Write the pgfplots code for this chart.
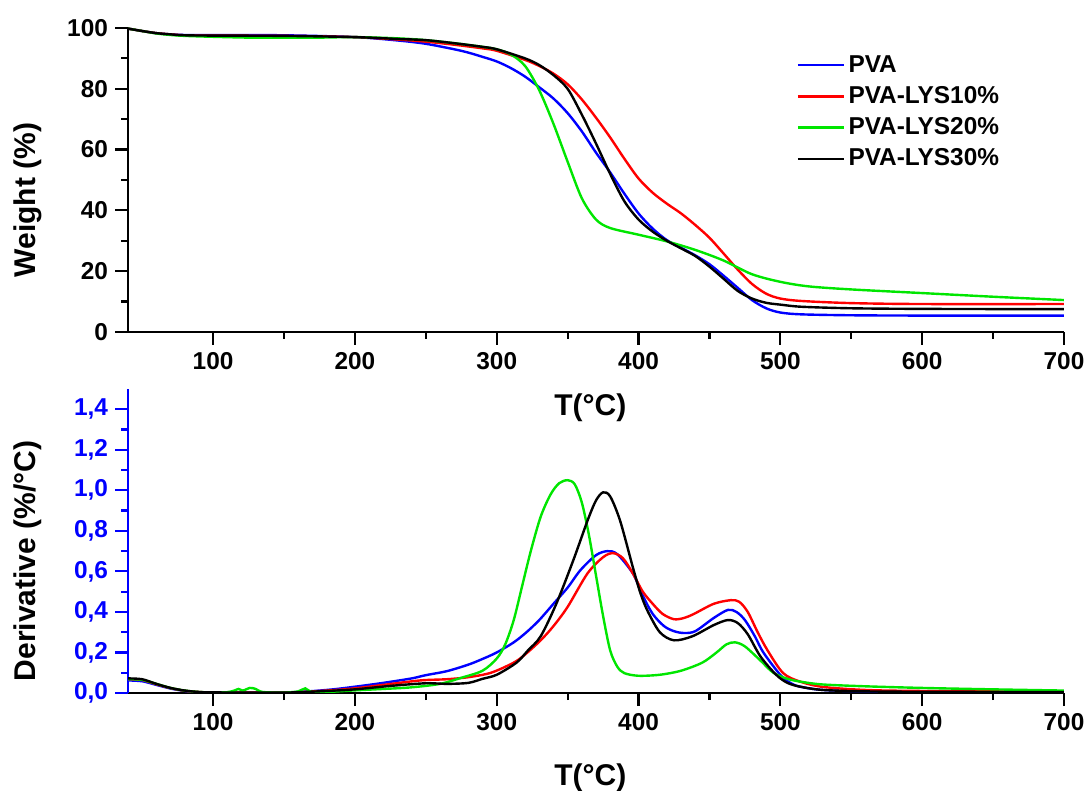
\documentclass[border=0pt]{standalone}
\usepackage{pgfplots}
\pgfplotsset{compat=1.18}
\usepackage{fontspec}
\setmainfont{Liberation Sans}
\definecolor{cblue}{RGB}{0,0,255}
\definecolor{cred}{RGB}{255,0,0}
\definecolor{cgreen}{RGB}{0,230,0}
\definecolor{cblack}{RGB}{0,0,0}

% ---------- TGA (weight) ----------
\pgfplotstableread{
T W
40 99.8
50 99.0
60 98.3
70 97.9
80 97.7
100 97.7
150 97.6
200 97.0
230 95.9
250 94.8
270 93.0
280 91.9
290 90.5
300 89.0
310 86.8
320 84.0
330 80.5
340 76.8
350 72.0
360 66.0
370 59.0
380 52.5
390 45.5
400 39.0
410 34.0
420 30.2
430 27.7
440 25.2
450 22.3
460 18.5
470 14.5
480 10.5
490 7.8
500 6.4
515 5.8
550 5.5
600 5.4
700 5.4
}\wPVA
\pgfplotstableread{
T W
40 99.8
50 99.0
60 98.3
70 97.9
80 97.6
100 97.5
150 97.4
200 97.0
230 96.2
250 95.5
270 94.5
290 93.3
300 92.5
320 89.5
330 87.5
340 85.0
350 81.5
360 76.5
370 70.5
380 64.0
390 57.0
400 50.5
410 45.8
420 42.2
430 39.0
440 35.2
450 31.0
460 25.8
470 20.5
480 15.8
490 12.6
500 11.0
515 10.2
550 9.5
600 9.2
700 9.2
}\wTen
\pgfplotstableread{
T W
40 99.8
50 99.0
60 98.2
70 97.7
80 97.4
100 97.1
130 96.8
170 96.8
200 97.0
230 96.6
250 96.0
270 95.0
290 93.8
300 93.0
310 91.3
320 87.5
330 79.5
340 68.5
350 56.0
360 44.0
370 37.0
380 34.2
400 32.0
420 29.8
440 27.0
460 23.5
480 19.0
500 16.5
520 15.0
550 14.0
600 12.8
650 11.6
700 10.5
}\wTwenty
\pgfplotstableread{
T W
40 99.8
50 99.0
60 98.3
70 97.9
80 97.6
100 97.5
150 97.4
200 97.0
230 96.4
250 96.0
270 95.0
290 93.8
300 93.0
320 90.0
330 87.8
340 84.5
350 80.0
360 71.5
370 62.0
380 52.0
390 43.0
400 37.0
410 33.0
420 30.0
430 27.5
440 25.0
450 21.5
460 17.5
470 13.5
480 11.0
490 9.6
500 9.0
515 8.3
550 7.8
600 7.6
700 7.5
}\wThirty

% ---------- DTG (derivative) ----------
\pgfplotstableread{
T D
40 0.062
50 0.058
60 0.040
70 0.022
80 0.010
90 0.004
100 0.003
150 0.002
180 0.015
200 0.031
220 0.050
240 0.072
250 0.088
265 0.108
280 0.140
290 0.168
300 0.200
312 0.250
321 0.300
330 0.360
340 0.440
350 0.520
359 0.606
370 0.680
378 0.700
385 0.685
396 0.590
403 0.480
410 0.390
418 0.330
425 0.305
432 0.296
440 0.305
453 0.370
463 0.410
469 0.400
475 0.360
482 0.280
488 0.200
500 0.089
507 0.050
514 0.031
530 0.015
560 0.008
600 0.006
700 0.004
}\dPVA
\pgfplotstableread{
T D
40 0.068
50 0.064
60 0.043
70 0.024
80 0.011
90 0.005
100 0.003
150 0.002
180 0.012
200 0.023
220 0.040
246 0.062
265 0.068
280 0.078
296 0.100
312 0.150
320 0.190
331 0.260
340 0.330
350 0.425
364 0.590
375 0.670
382 0.690
389 0.665
396 0.590
403 0.500
410 0.440
417 0.390
425 0.364
432 0.370
439 0.390
453 0.440
465 0.458
471 0.450
477 0.400
484 0.300
491 0.210
502 0.098
514 0.056
530 0.030
560 0.015
600 0.010
700 0.006
}\dTen
\pgfplotstableread{
T D
40 0.068
50 0.065
60 0.045
70 0.025
80 0.012
90 0.005
100 0.003
110 0.004
115 0.012
118 0.020
121 0.012
126 0.025
130 0.020
135 0.005
150 0.002
160 0.008
165 0.023
169 0.006
180 0.005
200 0.013
220 0.020
240 0.028
260 0.045
275 0.075
290 0.110
300 0.170
306 0.240
312 0.360
318 0.530
324 0.700
331 0.870
338 0.980
344 1.035
350 1.050
355 1.030
360 0.940
365 0.780
370 0.580
375 0.380
380 0.210
385 0.130
390 0.098
400 0.085
415 0.090
430 0.110
445 0.150
455 0.200
462 0.240
468 0.250
475 0.230
486 0.160
495 0.100
505 0.070
515 0.055
530 0.042
560 0.033
600 0.025
650 0.018
700 0.012
}\dTwenty
\pgfplotstableread{
T D
40 0.072
50 0.068
60 0.045
70 0.025
80 0.012
90 0.005
100 0.003
150 0.002
180 0.010
200 0.018
225 0.035
250 0.048
265 0.045
280 0.050
290 0.070
300 0.090
314 0.150
322 0.210
331 0.280
342 0.440
354 0.655
364 0.850
370 0.950
375 0.990
380 0.970
387 0.850
396 0.620
401 0.500
406 0.410
415 0.300
425 0.260
438 0.280
453 0.335
463 0.360
470 0.345
477 0.290
486 0.180
497 0.090
505 0.050
514 0.031
530 0.015
560 0.008
600 0.006
700 0.004
}\dThirty

\pgfplotsset{
  common/.style={
    scale only axis, width=468pt, height=152pt,
    xmin=40, xmax=700,
    xtick={100,200,...,700}, minor x tick num=1,
    axis x line=bottom, axis y line=left,
    axis line style={-, line width=1.3pt},
    tick align=outside,
    major tick length=6.5pt, minor tick length=3.5pt,
    tick style={line width=1.1pt, black},
    tick label style={font=\fontsize{12.2}{14}\selectfont\bfseries},
    /pgf/number format/assume math mode=true,
    label style={font=\fontsize{15}{18}\selectfont\bfseries},
    xlabel={T(°C)},
    every axis plot/.append style={line width=1.2pt, smooth, tension=0.5},
  }
}

\begin{document}
\begin{tikzpicture}
\useasboundingbox (0,0) rectangle (545.5pt,395.5pt);

\begin{axis}[common,
  at={(64pt,229.5pt)}, anchor=south west,
  ymin=0, ymax=100,
  ytick={0,20,...,100}, minor y tick num=1,
  ylabel={Weight (\%)},
  ylabel style={at={(axis description cs:-0.107,0.434)}, anchor=center},
  xlabel style={at={(axis description cs:0.494,-0.25)}, anchor=center},
  legend style={at={(0.714,0.93)}, anchor=north west, draw=none, fill=none,
    inner sep=0pt, row sep=0pt,
    font=\fontsize{12.2}{14}\selectfont\bfseries,
    nodes={text height=9.6pt, text depth=2.6pt, inner sep=1.7pt}},
  legend cell align=left,
  legend image code/.code={\draw[#1] (0pt,0pt) -- (23pt,0pt);},
]
\addplot[cblue] table[x=T,y=W] {\wPVA};
\addlegendentry{PVA}
\addplot[cred] table[x=T,y=W] {\wTen};
\addlegendentry{PVA-LYS10\%}
\addplot[cgreen] table[x=T,y=W] {\wTwenty};
\addlegendentry{PVA-LYS20\%}
\addplot[cblack] table[x=T,y=W] {\wThirty};
\addlegendentry{PVA-LYS30\%}
\end{axis}

\begin{axis}[common,
  at={(64pt,49pt)}, anchor=south west,
  ymin=0, ymax=1.5,
  ytick={0,0.2,...,1.4}, minor y tick num=1,
  y axis line style={cblue},
  ytick style={cblue},
  yticklabel style={text=cblue},
  yticklabel style={/pgf/number format/.cd, fixed, fixed zerofill, precision=1, use comma},
  ylabel={Derivative (\%/°C)},
  ylabel style={at={(axis description cs:-0.107,0.434)}, anchor=center},
  xlabel style={at={(axis description cs:0.494,-0.28)}, anchor=center},
]
\addplot[cblue] table[x=T,y=D] {\dPVA};
\addplot[cred] table[x=T,y=D] {\dTen};
\addplot[cgreen] table[x=T,y=D] {\dTwenty};
\addplot[cblack] table[x=T,y=D] {\dThirty};
\end{axis}
\end{tikzpicture}
\end{document}
